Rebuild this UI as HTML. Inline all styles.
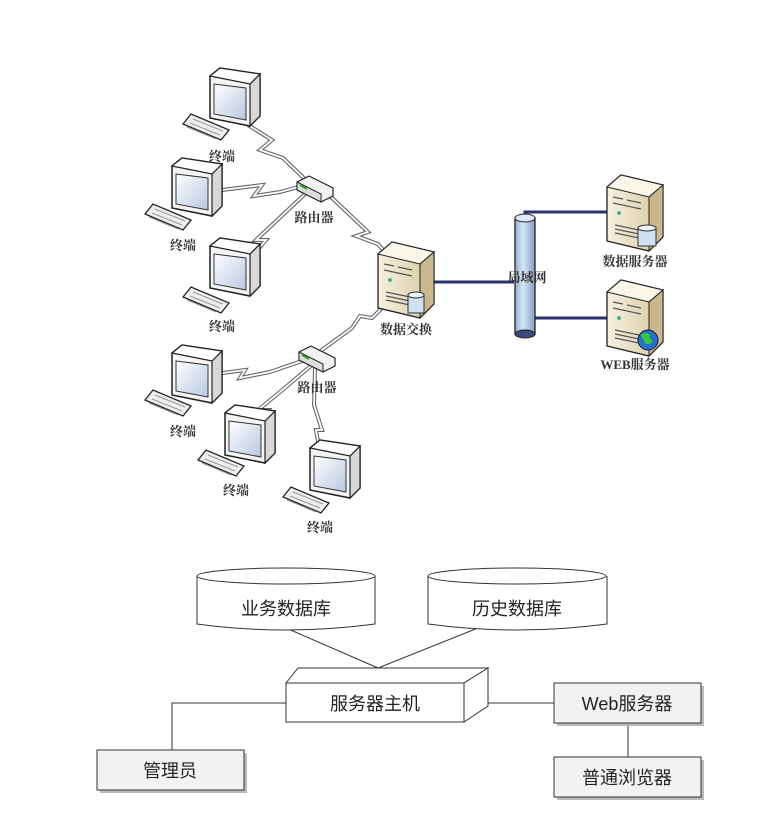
<!DOCTYPE html>
<html><head><meta charset="utf-8"><style>
html,body{margin:0;padding:0;background:#fff}
svg{display:block}
.t{font-family:"Liberation Serif","Noto Serif CJK SC",serif;font-size:13px;font-weight:bold;fill:#333;text-anchor:middle}
.b{font-family:"Liberation Sans","Noto Sans CJK SC",sans-serif;font-size:18px;fill:#222;text-anchor:middle}
</style></head><body>
<svg width="762" height="820" viewBox="0 0 762 820" xmlns="http://www.w3.org/2000/svg">
<defs>
<linearGradient id="scr" x1="0" y1="0" x2="1" y2="1"><stop offset="0" stop-color="#fff"/><stop offset="1" stop-color="#b8c8e0"/></linearGradient>
<linearGradient id="tube" x1="0" x2="1"><stop offset="0" stop-color="#8fb0d0"/><stop offset="0.4" stop-color="#d8e6f4"/><stop offset="1" stop-color="#7fa0c4"/></linearGradient>
<linearGradient id="srv" x1="0" x2="1"><stop offset="0" stop-color="#f6f0de"/><stop offset="1" stop-color="#d6c8a0"/></linearGradient>
<g id="mon">
<polygon points="0,8 10,0 50,6 50,48 40,58 0,50" fill="#f4f4f4" stroke="#222" stroke-width="1.5"/>
<polygon points="40,16 50,6 50,48 40,58" fill="#d8d8d8" stroke="#222" stroke-width="1.2"/>
<polygon points="0,8 10,0 50,6 40,16" fill="#fff" stroke="#222" stroke-width="1.2"/>
<polygon points="4,16 36,20 36,52 4,46" fill="url(#scr)" stroke="#333"/>
</g>
<g id="kb">
<polygon points="0,10 8,0 46,16 38,26" fill="#eee" stroke="#222" stroke-width="1.3"/>
<path d="M10,5 L40,17 M7,9 L37,21 M4,13 L33,25" stroke="#999" stroke-width="1"/>
</g>
<g id="rt">
<polygon points="0,6 12,0 36,12 36,20 24,26 0,14" fill="#f2f2f2" stroke="#222" stroke-width="1.2"/>
<polygon points="0,6 24,18 24,26 0,14" fill="#ddd" stroke="#222"/>
<path d="M3,9 L10,13" stroke="#2a2" stroke-width="2"/>
</g>
<g id="sv">
<polygon points="0,12 14,0 56,10 56,62 42,76 0,66" fill="url(#srv)" stroke="#222" stroke-width="1.3"/>
<polygon points="0,12 14,0 56,10 42,22" fill="#faf6ea" stroke="#222"/>
<polygon points="42,22 56,10 56,62 42,76" fill="#c8b88c" stroke="#222"/>
<path d="M6,22 L16,24 M20,25 L34,28 M6,28 L34,34 M8,50 L32,55 M8,54 L32,59 M8,58 L32,63" stroke="#555" stroke-width="1.2"/>
<circle cx="12" cy="38" r="2" fill="#5a8"/>
</g>
</defs>

<g fill="none" stroke-linejoin="miter">
<g stroke="#666" stroke-width="4">
<polyline points="248,125 272,140 260,150 283,158 312,186"/>
<polyline points="222,190 262,185 254,196 280,192 302,186"/>
<polyline points="236,275 266,240 256,240 272,225 305,194"/>
<polyline points="330,196 368,232 356,236 378,244 400,270"/>
<polyline points="398,292 372,318 360,316 352,328 315,355"/>
<polyline points="185,378 245,370 240,378 270,372 305,360"/>
<polyline points="240,440 268,410 258,410 280,392 312,365"/>
<polyline points="323,470 316,430 322,430 314,405 315,368"/>
</g>
<g stroke="#fff" stroke-width="1.8">
<polyline points="248,125 272,140 260,150 283,158 312,186"/>
<polyline points="222,190 262,185 254,196 280,192 302,186"/>
<polyline points="236,275 266,240 256,240 272,225 305,194"/>
<polyline points="330,196 368,232 356,236 378,244 400,270"/>
<polyline points="398,292 372,318 360,316 352,328 315,355"/>
<polyline points="185,378 245,370 240,378 270,372 305,360"/>
<polyline points="240,440 268,410 258,410 280,392 312,365"/>
<polyline points="323,470 316,430 322,430 314,405 315,368"/>
</g>
</g>

<use href="#mon" x="210" y="68"/><use href="#kb" x="183" y="114"/>
<use href="#mon" x="172" y="158"/><use href="#kb" x="145" y="204"/>
<use href="#mon" x="210" y="238"/><use href="#kb" x="183" y="287"/>
<use href="#mon" x="172" y="345"/><use href="#kb" x="145" y="390"/>
<use href="#mon" x="225" y="405"/><use href="#kb" x="198" y="450"/>
<use href="#mon" x="310" y="440"/><use href="#kb" x="283" y="487"/>
<use href="#rt" x="297" y="176"/><use href="#rt" x="299" y="346"/>

<g stroke="#2a2f6e" stroke-width="3" fill="none">
<polyline points="432,282 514,282"/>
<polyline points="525,217 525,212 612,212"/>
<polyline points="535,318 612,318"/>
</g>
<use href="#sv" x="378" y="242"/>
<g><rect x="408" y="295" width="16" height="18" fill="#cfe0f0" stroke="#333"/><ellipse cx="416" cy="295" rx="8" ry="3" fill="#eaf2fa" stroke="#333"/></g>
<use href="#sv" x="607" y="175"/>
<g><rect x="638" y="228" width="18" height="18" fill="#cfe0f0" stroke="#333"/><ellipse cx="647" cy="228" rx="9" ry="3" fill="#eaf2fa" stroke="#333"/></g>
<use href="#sv" x="607" y="280"/>
<circle cx="648" cy="340" r="10" fill="#2a6fd0" stroke="#123"/><path d="M641,335 q5,-4 9,0 q-2,4 3,6 q-4,5 -8,2 z" fill="#3c3"/>

<rect x="515" y="218" width="20" height="116" fill="url(#tube)" stroke="#222" stroke-width="1.3"/>
<ellipse cx="525" cy="218" rx="10" ry="4" fill="#dde9f5" stroke="#222"/>
<ellipse cx="525" cy="334" rx="10" ry="4" fill="#3a4a7a" stroke="#222"/>

<g class="t">
<text x="222" y="161">终端</text><text x="183" y="250">终端</text><text x="222" y="331">终端</text>
<text x="183" y="436">终端</text><text x="236" y="495">终端</text><text x="320" y="532">终端</text>
<text x="314" y="222">路由器</text><text x="317" y="392">路由器</text>
<text x="406" y="334">数据交换</text>
<text x="527" y="282">局域网</text>
<text x="635" y="266">数据服务器</text>
<text x="635" y="369">WEB服务器</text>
</g>

<g fill="#fff" stroke="#333" stroke-width="1">
<line x1="286" y1="628" x2="378" y2="668"/>
<line x1="478" y1="628" x2="378" y2="668"/>
<path d="M197,576 L197,624 Q286,636 375,624 L375,576" />
<ellipse cx="286" cy="576" rx="89" ry="8"/>
<path d="M428,576 L428,624 Q517,636 607,624 L607,576" />
<ellipse cx="517" cy="576" rx="89" ry="8"/>
<polyline points="286,703 172,703 172,750" fill="none"/>
<line x1="464" y1="703" x2="554" y2="703"/>
<line x1="628" y1="723" x2="628" y2="757"/>
<polygon points="286,683 298,668 488,668 464,683"/>
<polygon points="464,683 488,668 488,706 464,722"/>
<rect x="286" y="683" width="178" height="39"/>
<rect x="100" y="753" width="147" height="40" fill="#bbb" stroke="none"/>
<rect x="97" y="750" width="147" height="40" fill="#f2f2f2"/>
<rect x="557" y="686" width="147" height="40" fill="#bbb" stroke="none"/>
<rect x="554" y="683" width="147" height="40" fill="#f2f2f2"/>
<rect x="557" y="760" width="147" height="40" fill="#bbb" stroke="none"/>
<rect x="554" y="757" width="147" height="40" fill="#f2f2f2"/>
</g>
<g class="b">
<text x="286" y="615">业务数据库</text>
<text x="517" y="615">历史数据库</text>
<text x="375" y="710">服务器主机</text>
<text x="627" y="710">Web服务器</text>
<text x="170" y="777">管理员</text>
<text x="627" y="784">普通浏览器</text>
</g>
</svg>
</body></html>
